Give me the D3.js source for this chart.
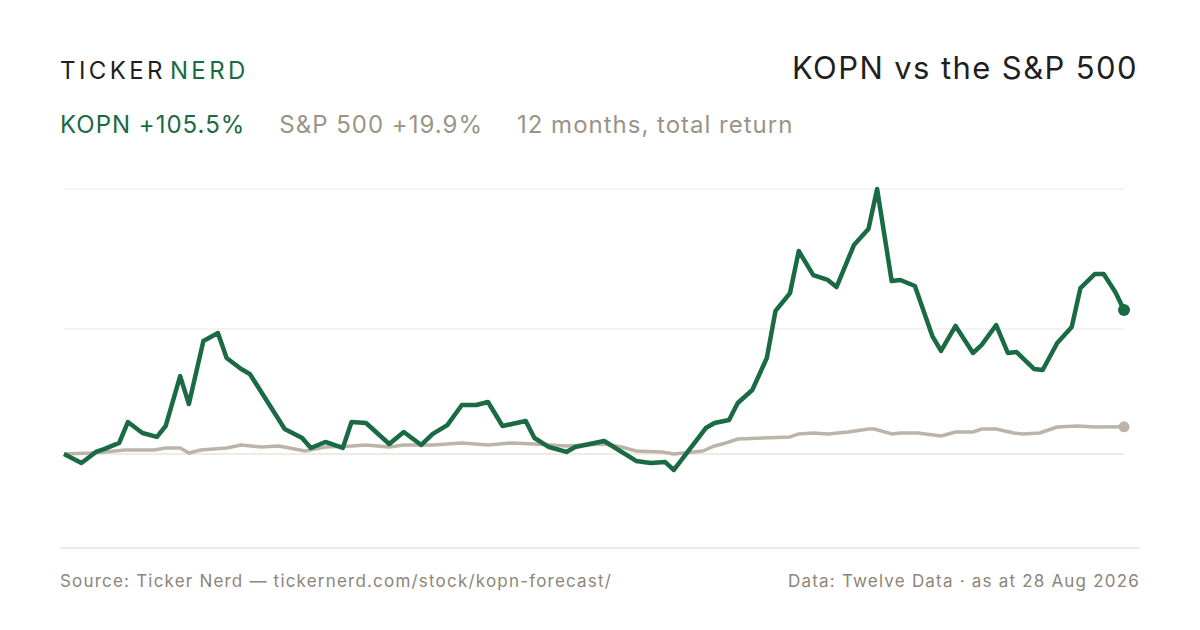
<!DOCTYPE html>
<html>
<head>
<meta charset="utf-8">
<script src="https://cdn.jsdelivr.net/npm/d3@7"></script>
<style>
  body { margin: 0; background: #fff; }
  text { font-family: "Inter", "Noto Sans", sans-serif; }
</style>
</head>
<body>
<svg id="chart" width="1200" height="630"></svg>
<script>
// KOPN total return (%), by day of the 12-month window
var kopnDays = [0,6,11,14,19,22,27,32,35,40,43,48,53,56,61,64,76,82,85,90,96,99,104,112,117,123,127,132,137,142,146,151,159,162,167,173,176,181,186,197,202,207,210,221,224,229,232,237,242,245,250,253,258,263,266,272,277,280,285,288,293,299,302,307,313,316,321,325,328,334,337,342,347,350,355,358,362,365];
var kopnValues = [0,-6.6,1.5,3.7,8.1,23.4,15.4,12.5,20.5,57.1,36.6,82.8,88.6,70.3,62.3,58.6,18.3,11.7,4.4,8.8,4.4,23.4,22.7,7.3,16.1,6.6,14.7,21.2,35.9,35.9,38.1,20.5,24.2,11.7,5.1,1.5,5.1,7.3,9.5,-5.1,-6.6,-5.9,-11.7,19.0,22.7,24.9,37.4,46.9,70.3,104.8,117.9,148.7,131.1,127.5,122.3,153.1,164.8,194.1,126.7,127.5,123.1,86.4,75.5,93.8,74.0,79.9,94.5,74.0,74.7,62.3,61.5,81.3,93.0,121.6,131.9,131.9,118.7,105.5];

// S&P 500 total return (%)
var spxDays = [0,9,14,21,31,35,40,43,47,56,61,68,74,83,90,99,104,112,117,127,137,146,154,162,173,186,192,197,206,210,220,224,228,232,250,253,258,263,270,277,279,285,288,294,302,307,313,316,321,327,330,336,342,349,355,365];
var spxValues = [0,0.7,1.5,2.9,2.9,4.4,4.4,0.7,2.9,4.4,6.6,5.1,5.9,2.2,5.1,5.9,6.6,5.1,6.6,6.6,8.1,6.6,8.1,7.3,5.9,7.3,5.1,2.2,1.5,0,2.2,5.9,8.1,11.0,12.5,14.7,15.4,14.7,16.1,18.3,18.3,14.7,15.4,15.4,13.2,16.1,16.1,18.3,18.3,15.4,14.7,15.4,19.8,20.5,19.8,19.9];

var gridValues = [0, 91.6, 194];

var svg = d3.select("#chart");
var x = d3.scaleLinear().domain([0, 365]).range([64, 1124]);
var y = d3.scaleLinear().domain([0, 105.5]).range([454, 310]);

// gridlines
svg.selectAll(".grid").data(gridValues).enter().append("line")
  .attr("x1", 64).attr("x2", 1124)
  .attr("y1", d => y(d)).attr("y2", d => y(d))
  .attr("stroke", d => d === 0 ? "#ddd6ca" : "#ebe8e3")
  .attr("stroke-width", 1);

svg.append("line").attr("x1", 60).attr("x2", 1140).attr("y1", 548).attr("y2", 548)
  .attr("stroke", "#d9d4ca").attr("stroke-width", 1);

var line = d3.line().x(d => x(d[0])).y(d => y(d[1]));
var spx = d3.zip(spxDays, spxValues);
var kopn = d3.zip(kopnDays, kopnValues);

svg.append("path").datum(spx).attr("d", line)
  .attr("fill", "none").attr("stroke", "#bcb4a8").attr("stroke-width", 3.5)
  .attr("stroke-linejoin", "round");
svg.append("circle").attr("cx", x(365)).attr("cy", y(spxValues[spxValues.length - 1]))
  .attr("r", 5.5).attr("fill", "#bcb4a8");

svg.append("path").datum(kopn).attr("d", line)
  .attr("fill", "none").attr("stroke", "#1a6a43").attr("stroke-width", 4.5)
  .attr("stroke-linejoin", "round");
svg.append("circle").attr("cx", x(365)).attr("cy", y(kopnValues[kopnValues.length - 1]))
  .attr("r", 6).attr("fill", "#1a6a43");

// header
var logo = svg.append("text").attr("x", 60).attr("y", 79)
  .attr("font-size", 24).attr("letter-spacing", 3.4);
logo.append("tspan").attr("fill", "#1f1f1f").text("TICKER");
logo.append("tspan").attr("fill", "#1a6a43").attr("dx", 4).text("NERD");

svg.append("text").attr("x", 1138).attr("y", 79).attr("text-anchor", "end")
  .attr("font-size", 31).attr("letter-spacing", 1.4).attr("fill", "#1f1f1f").text("KOPN vs the S&P 500");

var sub = svg.append("text").attr("x", 60).attr("y", 133).attr("font-size", 24).attr("letter-spacing", 1);
sub.append("tspan").attr("fill", "#1a6a43").text("KOPN +105.5%");
sub.append("tspan").attr("fill", "#9b9486").attr("dx", 34).text("S&P 500 +19.9%");
sub.append("tspan").attr("fill", "#9b9486").attr("dx", 34).text("12 months, total return");

// footer
svg.append("text").attr("x", 60).attr("y", 587).attr("font-size", 17).attr("letter-spacing", 1.2).attr("fill", "#8c8578")
  .text("Source: Ticker Nerd — tickernerd.com/stock/kopn-forecast/");
svg.append("text").attr("x", 1140).attr("y", 587).attr("text-anchor", "end")
  .attr("font-size", 17).attr("letter-spacing", 1.2).attr("fill", "#8c8578")
  .text("Data: Twelve Data · as at 28 Aug 2026");
</script>
</body>
</html>
